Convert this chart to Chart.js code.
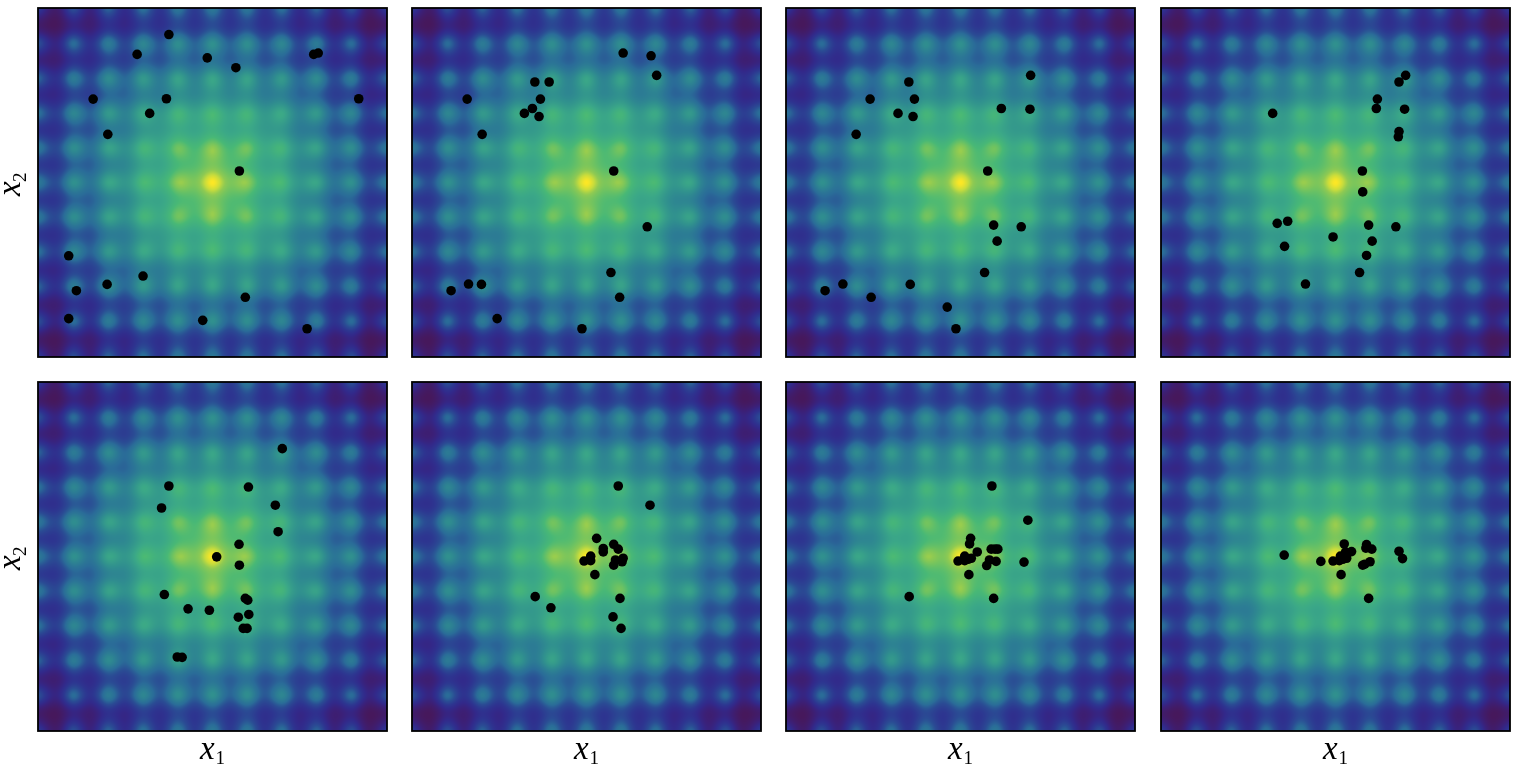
<!DOCTYPE html>
<html><head><meta charset="utf-8">
<style>html,body{margin:0;padding:0;background:#fff;width:1520px;height:776px;overflow:hidden}
canvas{position:absolute;display:block}</style>
<script src="https://cdn.jsdelivr.net/npm/chart.js@4"></script></head><body>
<script>
const xLabelParts=['x','1'], yLabelParts=['x','2'];
// landscape heights read at half-unit steps, one quadrant from the centre (0,0) outward to (5,5)
const fieldQuadrant=[
[0,3.2,2.64,5.8,4.93,8.0,6.92,10.39,8.64,12.0,10.14],
[3.2,4.5,5.0,6.9,7.0,9.2,9.58,11.4,11.27,12.99,12.75],
[2.64,5.0,3.63,6.4,5.41,8.5,7.21,10.63,8.84,12.16,10.28],
[5.8,6.9,6.4,7.8,8.0,10.0,10.13,11.86,11.65,13.3,13.02],
[4.93,7.0,5.41,8.0,6.59,9.6,7.99,11.27,9.37,12.61,10.66],
[8.0,9.2,8.5,10.0,9.6,11.2,11.07,12.64,12.31,13.87,13.51],
[6.92,9.58,7.21,10.13,7.99,11.07,9.02,12.16,10.14,13.27,11.23],
[10.39,11.4,10.63,11.86,11.27,12.64,12.16,13.6,13.15,14.6,14.14],
[8.64,11.27,8.84,11.65,9.37,12.31,10.14,13.15,11.01,14.04,11.91],
[12.0,12.99,12.16,13.3,12.61,13.87,13.27,14.6,14.04,15.4,14.85],
[10.14,12.75,10.28,13.02,10.66,13.51,11.23,14.14,11.91,14.85,12.64]];
const colorLevels=[0,1.5,2.64,3.63,4.93,6.6,8.6,10,11,12,13,13.7,14.4,15.4];
const colorValues=['#fde725','#c8dc3c','#8fca52','#70c360','#48b876','#3ba887','#30908e','#2c7c94','#2a6c98','#2a4c94','#2d3590','#32298a','#3b2078','#46185c'];
const p1x=[-1.25,-2.16,-0.15,0.67,2.90,3.03,-3.42,-1.32,4.19,-1.80,-3.00,0.77,-4.12,-1.99,-3.02,-3.90,0.94,-4.12,-0.28,2.71];
const p1y=[4.24,3.67,3.57,3.29,3.67,3.71,2.39,2.40,2.40,1.98,1.38,0.33,-2.10,-2.68,-2.92,-3.10,-3.29,-3.90,-3.95,-4.19];
const p2x=[1.05,1.85,2.01,-1.48,-1.07,-3.42,-1.32,-1.55,-1.78,-1.36,-2.99,0.78,1.74,0.70,0.95,-3.38,-3.01,-3.88,-2.56,-0.13];
const p2y=[3.71,3.63,3.07,2.88,2.88,2.39,2.39,2.12,1.98,1.89,1.38,0.33,-1.27,-2.58,-3.29,-2.91,-2.92,-3.10,-3.90,-4.19];
const p3x=[2.01,-1.48,-2.59,-1.32,1.17,1.99,-1.79,-1.36,-2.99,0.78,0.95,1.74,1.05,0.69,-3.37,-1.44,-3.88,-2.56,-0.38,-0.13];
const p3y=[3.07,2.88,2.39,2.39,2.12,2.10,1.98,1.89,1.38,0.33,-1.22,-1.27,-1.68,-2.58,-2.91,-2.92,-3.10,-3.29,-3.57,-4.19];
const p4x=[2.01,1.82,1.20,1.17,1.98,-1.80,1.82,1.80,0.77,0.78,-1.37,-1.67,0.95,1.73,-0.07,1.05,-1.46,0.89,0.69,-0.86];
const p4y=[3.07,2.88,2.39,2.12,2.10,1.98,1.46,1.31,0.33,-0.27,-1.11,-1.17,-1.22,-1.27,-1.56,-1.68,-1.83,-2.09,-2.58,-2.91];
const p5x=[2.00,-1.25,1.03,-1.46,1.80,1.88,0.76,0.12,0.77,-1.38,0.94,1.01,-0.70,-0.09,1.04,0.74,0.88,0.99,-1.01,-0.87];
const p5y=[3.09,2.02,1.99,1.39,1.47,0.71,0.35,-0.01,-0.25,-1.09,-1.20,-1.25,-1.50,-1.54,-1.66,-1.74,-2.06,-2.06,-2.88,-2.89];
const p6x=[0.91,1.82,0.29,0.78,0.48,0.91,0.48,0.12,1.05,0.83,1.02,-0.07,0.12,0.78,0.24,-1.47,-1.02,0.96,0.76,0.99];
const p6y=[2.02,1.47,0.52,0.35,0.23,0.21,0.13,0.01,-0.05,-0.10,-0.15,-0.13,-0.12,-0.25,-0.52,-1.15,-1.47,-1.20,-1.73,-2.06];
const p7x=[0.90,1.93,0.29,0.26,0.48,0.88,0.99,1.07,0.12,0.31,0.83,1.02,-0.07,0.12,0.22,0.75,1.82,0.24,-1.47,0.95];
const p7y=[2.02,1.04,0.52,0.36,0.13,0.21,0.21,0.21,0.01,-0.05,-0.10,-0.14,-0.13,-0.12,-0.08,-0.26,-0.16,-0.52,-1.15,-1.20];
const p8x=[-1.47,-0.42,0.25,0.46,0.29,0.89,1.04,0.87,1.82,1.92,0.14,0.32,-0.07,0.11,0.21,0.99,0.78,0.16,0.95,0.84];
const p8y=[0.04,-0.14,0.36,0.14,0.13,0.34,0.21,0.24,0.15,-0.06,0.01,-0.05,-0.13,-0.12,-0.08,-0.15,-0.25,-0.52,-1.20,-0.22];
const panelXs=[p1x,p2x,p3x,p4x,p5x,p6x,p7x,p8x];
const panelYs=[p1y,p2y,p3y,p4y,p5y,p6y,p7y,p8y];

const SIZE=349, LEFTS=[38,412,786,1161], TOPS=[8,382], SHARP=3.6;
const hex=h=>[1,3,5].map(i=>parseInt(h.substr(i,2),16));
const rgbStops=colorValues.map(hex);
function colorAt(v){
  if(v<=colorLevels[0])return rgbStops[0];
  for(let k=1;k<colorLevels.length;k++){
    if(v<=colorLevels[k]){const t=(v-colorLevels[k-1])/(colorLevels[k]-colorLevels[k-1]);
      return rgbStops[k-1].map((c,n)=>c+(rgbStops[k][n]-c)*t);}
  }
  return rgbStops[rgbStops.length-1];
}
const clampIdx=i=>Math.max(0,Math.min(20,i));
const cell=(r,c)=>Math.exp(fieldQuadrant[Math.abs(clampIdx(r)-10)][Math.abs(clampIdx(c)-10)]/SHARP);
const cubic=(a,b,c,d,t)=>0.5*(2*b+(c-a)*t+(2*a-5*b+4*c-d)*t*t+(3*b-a-3*c+d)*t*t*t);
function heatAt(gx,gy){
  const ix=Math.floor(gx),iy=Math.floor(gy),tx=gx-ix,ty=gy-iy,rows=[];
  for(let r=-1;r<=2;r++){
    rows.push(cubic(cell(iy+r,ix-1),cell(iy+r,ix),cell(iy+r,ix+1),cell(iy+r,ix+2),tx));
  }
  return SHARP*Math.log(Math.max(1,cubic(rows[0],rows[1],rows[2],rows[3],ty)));
}
const heatCanvas=document.createElement('canvas');
heatCanvas.width=heatCanvas.height=SIZE;
(function(){
  const c=heatCanvas.getContext('2d'),img=c.createImageData(SIZE,SIZE);
  for(let y=0;y<SIZE;y++)for(let x=0;x<SIZE;x++){
    const rgb=colorAt(heatAt((x+.5)/SIZE*20,(y+.5)/SIZE*20)),o=(y*SIZE+x)*4;
    img.data[o]=rgb[0];img.data[o+1]=rgb[1];img.data[o+2]=rgb[2];img.data[o+3]=255;
  }
  c.putImageData(img,0,0);
})();
const SERIF="'Liberation Serif','DejaVu Serif',serif";
const heatPlugin={id:'heat',
  beforeDatasetsDraw(ch){
    const {x,y}=ch.scales,l=x.getPixelForValue(-5),r=x.getPixelForValue(5),t=y.getPixelForValue(5),b=y.getPixelForValue(-5);
    ch.ctx.drawImage(heatCanvas,l,t,r-l,b-t);
  },
  afterDatasetsDraw(ch,args,opts){
    const a=ch.chartArea,c=ch.ctx;
    c.save();c.strokeStyle='#000';c.lineWidth=1.8;c.strokeRect(a.left,a.top,a.width,a.height);
    c.fillStyle='#000';c.textAlign='left';c.textBaseline='alphabetic';
    if(opts.xTitle){
      c.font='italic 33px '+SERIF;c.fillText(xLabelParts[0],a.left+162,a.bottom+28);
      c.font='19px '+SERIF;c.fillText(xLabelParts[1],a.left+177.5,a.bottom+33);
    }
    if(opts.yTitle){
      c.translate(a.left,a.top);c.rotate(-Math.PI/2);
      c.font='italic 33px '+SERIF;c.fillText(yLabelParts[0],-188,-18);
      c.font='19px '+SERIF;c.fillText(yLabelParts[1],-174,-12);
    }
    c.restore();
  }};
panelXs.forEach((xs,n)=>{
  const col=n%4,row=Math.floor(n/4),mL=col===0?38:6,mB=row===1?44:6,mT=6,mR=6;
  const cv=document.createElement('canvas');
  const w=SIZE+mL+mR,h=SIZE+mT+mB;
  cv.style.cssText=`left:${LEFTS[col]-mL}px;top:${TOPS[row]-mT}px;width:${w}px;height:${h}px`;
  cv.width=w;cv.height=h;document.body.appendChild(cv);
  new Chart(cv,{type:'scatter',plugins:[heatPlugin],
    data:{datasets:[{data:xs.map((v,i)=>({x:v,y:panelYs[n][i]})),backgroundColor:'#000',borderWidth:0,pointRadius:4.8,pointHoverRadius:4.8}]},
    options:{responsive:false,animation:false,events:[],
      layout:{padding:{top:mT,right:mR,left:0,bottom:0}},
      plugins:{legend:{display:false},tooltip:{enabled:false},heat:{xTitle:row===1,yTitle:col===0}},
      scales:{
        x:{type:'linear',min:-5,max:5,ticks:{display:false},grid:{display:false},border:{display:false},afterFit:s=>{s.height=mB;}},
        y:{type:'linear',min:-5,max:5,ticks:{display:false},grid:{display:false},border:{display:false},afterFit:s=>{s.width=mL;}}
      }}});
});
</script>
</body></html>
